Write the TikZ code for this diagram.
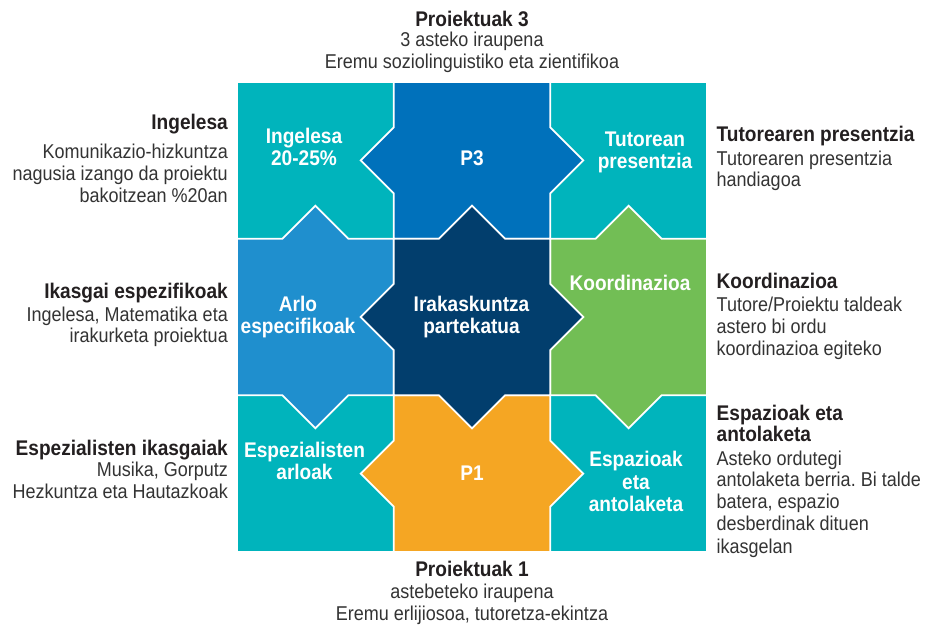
\documentclass[tikz,border=0pt]{standalone}
\usepackage{fontspec}
\setmainfont{Liberation Sans}[FakeStretch=0.9]
\frenchspacing
\definecolor{cTeal}{HTML}{00B4BC}
\definecolor{cBlue}{HTML}{0071BB}
\definecolor{cSky}{HTML}{1F8FCE}
\definecolor{cNavy}{HTML}{023E6D}
\definecolor{cGreen}{HTML}{72BE55}
\definecolor{cOrange}{HTML}{F5A623}
\definecolor{cInk}{HTML}{231F20}
\definecolor{cBody}{HTML}{333333}
\tikzset{
  tile/.style={draw=white, line width=1.8pt, line join=miter},
  hd/.style={font=\bfseries\fontsize{21.2}{22}\selectfont, text=cInk, inner sep=0pt},
  bd/.style={font=\fontsize{20}{22}\selectfont, text=cBody, inner sep=0pt},
  tl/.style={font=\bfseries\fontsize{21.2}{22}\selectfont, text=white, inner sep=0pt, anchor=base},
}
\begin{document}
\begin{tikzpicture}[x=1pt, y=-1pt]
\useasboundingbox (0,0) rectangle (932,625);
% grid
\def\Xa{237}\def\Xb{393.7}\def\Xc{550.3}\def\Xd{707}
\def\Ya{82}\def\Yb{238.7}\def\Yc{395.3}\def\Yd{552}
\def\T{33}
% corner tiles
\path[tile, fill=cTeal] (\Xa,\Ya) rectangle (\Xb,\Yb);
\path[tile, fill=cTeal] (\Xc,\Ya) rectangle (\Xd,\Yb);
\path[tile, fill=cTeal] (\Xa,\Yc) rectangle (\Xb,\Yd);
\path[tile, fill=cTeal] (\Xc,\Yc) rectangle (\Xd,\Yd);
% P3 (tabs left/right)
\path[tile, fill=cBlue] (\Xb,\Ya) -- (\Xc,\Ya) -- (\Xc,160.35-\T) -- (\Xc+\T,160.35) -- (\Xc,160.35+\T) -- (\Xc,\Yb) -- (\Xb,\Yb) -- (\Xb,160.35+\T) -- (\Xb-\T,160.35) -- (\Xb,160.35-\T) -- cycle;
% P1 (tabs left/right)
\path[tile, fill=cOrange] (\Xb,\Yc) -- (\Xc,\Yc) -- (\Xc,473.65-\T) -- (\Xc+\T,473.65) -- (\Xc,473.65+\T) -- (\Xc,\Yd) -- (\Xb,\Yd) -- (\Xb,473.65+\T) -- (\Xb-\T,473.65) -- (\Xb,473.65-\T) -- cycle;
% Arlo (tabs up/down)
\path[tile, fill=cSky] (\Xa,\Yb) -- (315.35-\T,\Yb) -- (315.35,\Yb-\T) -- (315.35+\T,\Yb) -- (\Xb,\Yb) -- (\Xb,\Yc) -- (315.35+\T,\Yc) -- (315.35,\Yc+\T) -- (315.35-\T,\Yc) -- (\Xa,\Yc) -- cycle;
% Koordinazioa (tabs up/down)
\path[tile, fill=cGreen] (\Xc,\Yb) -- (628.65-\T,\Yb) -- (628.65,\Yb-\T) -- (628.65+\T,\Yb) -- (\Xd,\Yb) -- (\Xd,\Yc) -- (628.65+\T,\Yc) -- (628.65,\Yc+\T) -- (628.65-\T,\Yc) -- (\Xc,\Yc) -- cycle;
% centre (four tabs)
\path[tile, fill=cNavy] (\Xb,\Yb) -- (472-\T,\Yb) -- (472,\Yb-\T) -- (472+\T,\Yb) -- (\Xc,\Yb)
  -- (\Xc,317-\T) -- (\Xc+\T,317) -- (\Xc,317+\T) -- (\Xc,\Yc)
  -- (472+\T,\Yc) -- (472,\Yc+\T) -- (472-\T,\Yc) -- (\Xb,\Yc)
  -- (\Xb,317+\T) -- (\Xb-\T,317) -- (\Xb,317-\T) -- cycle;
% tile labels
\node[tl] (t1a) at (304,143.3) {Ingelesa};
\node[tl] (t1b) at (304,165.7) {20-25\%};
\node[tl] (t2) at (472,165.7) {P3};
\node[tl] (t3a) at (645,146.7) {Tutorean};
\node[tl] (t3b) at (645,168.5) {presentzia};
\node[tl] (t4a) at (298,311) {Arlo};
\node[tl] (t4b) at (298,333) {especifikoak};
\node[tl] (t5a) at (471.5,311) {Irakaskuntza};
\node[tl] (t5b) at (471.5,333) {partekatua};
\node[tl] (t6) at (630,290) {Koordinazioa};
\node[tl] (t7a) at (304.5,457.7) {Espezialisten};
\node[tl] (t7b) at (304.5,479.5) {arloak};
\node[tl] (t8) at (472,480.7) {P1};
\node[tl] (t9a) at (636,466.7) {Espazioak};
\node[tl] (t9b) at (636,489.2) {eta};
\node[tl] (t9c) at (636,511.7) {antolaketa};
% top
\node[hd, anchor=base] (topA) at (472,26) {Proiektuak 3};
\node[bd, anchor=base] (topB) at (472,46.7) {3 asteko iraupena};
\node[bd, anchor=base] (topC) at (472,68.3) {Eremu soziolinguistiko eta zientifikoa};
% bottom
\node[hd, anchor=base] (botA) at (472,576.7) {Proiektuak 1};
\node[bd, anchor=base] (botB) at (472,598.3) {astebeteko iraupena};
\node[bd, anchor=base] (botC) at (472,620) {Eremu erlijiosoa, tutoretza-ekintza};
% left
\node[hd, anchor=base east] (lA1) at (228,129) {Ingelesa};
\node[bd, anchor=base east] (lA2) at (228,158) {Komunikazio-hizkuntza};
\node[bd, anchor=base east] (lA3) at (228,180.2) {nagusia izango da proiektu};
\node[bd, anchor=base east] (lA4) at (228,202) {bakoitzean \%20an};
\node[hd, anchor=base east] (lB1) at (228,298.3) {Ikasgai espezifikoak};
\node[bd, anchor=base east] (lB2) at (228,321.7) {Ingelesa, Matematika eta};
\node[bd, anchor=base east] (lB3) at (228,342.7) {irakurketa proiektua};
\node[hd, anchor=base east] (lC1) at (228,455) {Espezialisten ikasgaiak};
\node[bd, anchor=base east] (lC2) at (228,476.7) {Musika, Gorputz};
\node[bd, anchor=base east] (lC3) at (228,498.3) {Hezkuntza eta Hautazkoak};
% right
\node[hd, anchor=base west] (rA1) at (716.5,141.7) {Tutorearen presentzia};
\node[bd, anchor=base west] (rA2) at (716.5,165) {Tutorearen presentzia};
\node[bd, anchor=base west] (rA3) at (716.5,186.7) {handiagoa};
\node[hd, anchor=base west] (rB1) at (716.5,288.3) {Koordinazioa};
\node[bd, anchor=base west] (rB2) at (716.5,311.7) {Tutore/Proiektu taldeak};
\node[bd, anchor=base west] (rB3) at (716.5,333.3) {astero bi ordu};
\node[bd, anchor=base west] (rB4) at (716.5,355) {koordinazioa egiteko};
\node[hd, anchor=base west] (rC1) at (716.5,420) {Espazioak eta};
\node[hd, anchor=base west] (rC2) at (716.5,441.7) {antolaketa};
\node[bd, anchor=base west] (rC3) at (716.5,465) {Asteko ordutegi};
\node[bd, anchor=base west] (rC4) at (716.5,486.7) {antolaketa berria. Bi talde};
\node[bd, anchor=base west] (rC5) at (716.5,508.3) {batera, espazio};
\node[bd, anchor=base west] (rC6) at (716.5,530) {desberdinak dituen};
\node[bd, anchor=base west] (rC7) at (716.5,553.3) {ikasgelan};
\end{tikzpicture}
\end{document}
